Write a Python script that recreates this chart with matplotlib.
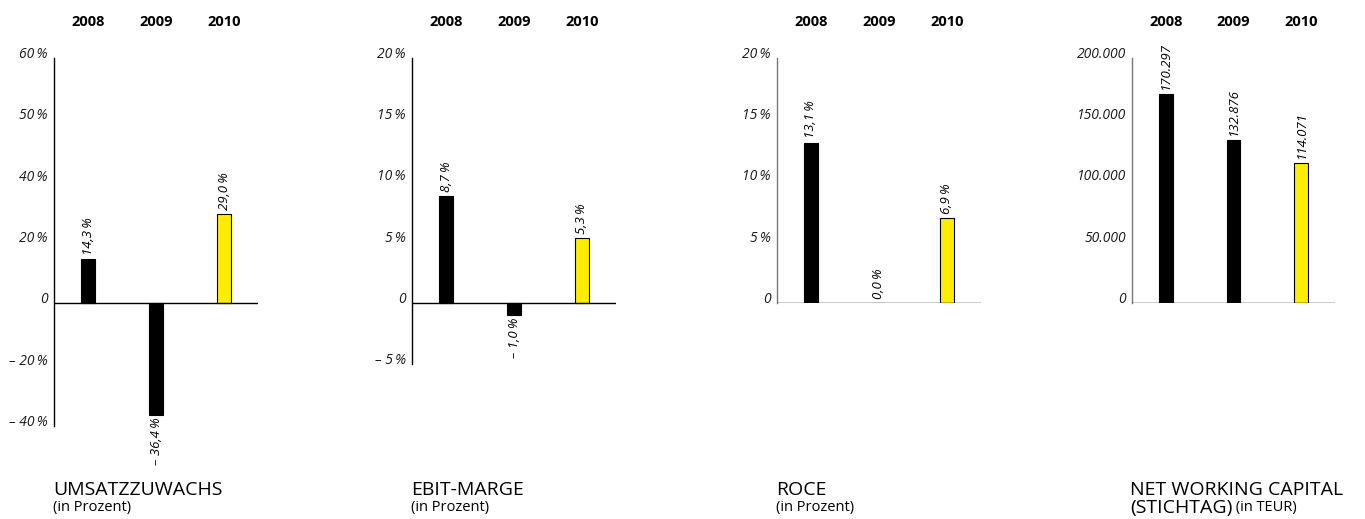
import matplotlib
matplotlib.use("Agg")
import matplotlib.pyplot as plt
import matplotlib.transforms as mtransforms

plt.rcParams['font.family'] = ['Open Sans', 'DejaVu Sans']

# Kennzahlen 2008 - 2010
years = ["2008", "2009", "2010"]
umsatz = [14.3, -36.4, 29.0]
ebit = [8.7, -1.0, 5.3]
roce = [13.1, 0.0, 6.9]
nwc = [170297, 132876, 114071]

# y-Achsen Beschriftung je Diagramm
umsatz_ticks = [-40, -20, 0, 20, 40, 60, 80]
umsatz_ticklabels = ["\u2013 40\u2009%", "\u2013 20\u2009%", "0", "20\u2009%", "40\u2009%", "50\u2009%", "60\u2009%"]
ebit_ticks = [-5, 0, 5, 10, 15, 20]
ebit_ticklabels = ["\u2013 5\u2009%", "0", "5\u2009%", "10\u2009%", "15\u2009%", "20\u2009%"]
roce_ticks = [0, 5, 10, 15, 20]
roce_ticklabels = ["0", "5\u2009%", "10\u2009%", "15\u2009%", "20\u2009%"]
nwc_ticks = [0, 50000, 100000, 150000, 200000]
nwc_ticklabels = ["0", "50.000", "100.000", "150.000", "200.000"]

titles = ["UMSATZZUWACHS", "EBIT-MARGE", "ROCE", "NET WORKING CAPITAL"]

BLACK = "#000000"
YELLOW = "#FFED00"
W, H = 1365, 519


def pct_label(v):
    s = f"{abs(v):.1f}".replace(".", ",") + "\u2009%"
    return ("\u2013 " + s) if v < 0 else s


def teur_label(v):
    return f"{v:,}".replace(",", ".")


fig = plt.figure(figsize=(W / 100, H / 100), dpi=100)


def panel(x0, x1, y0, y1, values, ticks, ticklabels, fmt, spine_col):
    # pixel box -> figure fraction
    ax = fig.add_axes([x0 / W, 1 - y1 / H, (x1 - x0) / W, (y1 - y0) / H])
    xs = range(len(values))
    colors = [BLACK, BLACK, YELLOW]
    ax.bar(xs, values, width=0.2, color=colors, edgecolor=BLACK, linewidth=0.8, zorder=3)
    ax.set_xlim(-0.5, 2.5)
    ax.set_ylim(min(ticks), max(ticks))
    ax.axhline(0, color=BLACK, lw=1.0, zorder=4)
    for s in ["top", "right", "bottom"]:
        ax.spines[s].set_visible(False)
    ax.spines["left"].set_color(spine_col)
    ax.spines["left"].set_linewidth(1.0)
    ax.set_xticks([])
    ax.set_yticks(ticks)
    ax.set_yticklabels(ticklabels, fontsize=10, style="italic", color="#1a1a1a")
    for lab in ax.get_yticklabels():
        lab.set_verticalalignment("baseline")
    ax.tick_params(axis="y", length=0, pad=4.5)

    # Jahreszahlen oben
    trans = mtransforms.blended_transform_factory(ax.transData, fig.transFigure)
    for i, yr in enumerate(years):
        ax.text(i, 1 - 22 / H, yr, transform=trans, ha="center", va="center",
                fontsize=10.5, fontweight="bold")

    # Werte an den Balken
    for i, v in enumerate(values):
        if v < 0:
            ax.annotate(fmt(v), (i, v), xytext=(0, -2), textcoords="offset points",
                        rotation=90, ha="center", va="top", fontsize=9.5, style="italic")
        else:
            ax.annotate(fmt(v), (i, v), xytext=(0, 3), textcoords="offset points",
                        rotation=90, ha="center", va="bottom", fontsize=9.5, style="italic")
    return ax


panel(54, 258, 58, 426, umsatz, umsatz_ticks, umsatz_ticklabels, pct_label, BLACK)
panel(412, 616, 58, 364, ebit, ebit_ticks, ebit_ticklabels, pct_label, BLACK)
panel(777, 981, 58, 303, roce, roce_ticks, roce_ticklabels, pct_label, "#777777")
ax4 = panel(1132, 1335, 58, 303, nwc, nwc_ticks, nwc_ticklabels, teur_label, "#777777")

# Unterschriften
title_x = [53, 411, 776, 1130]
for i, (tx, t) in enumerate(zip(title_x, titles)):
    fig.text(tx / W, 1 - 490 / H, t, fontsize=14, ha="left", va="center")
    if i < 3:
        fig.text(tx / W, 1 - 507 / H, "(in Prozent)", fontsize=10.5, ha="left", va="center")
    else:
        st = fig.text(tx / W, 1 - 508 / H, "(STICHTAG)", fontsize=14, ha="left", va="center")
        ax4.annotate(" (in TEUR)", xy=(1, 0), xycoords=st, xytext=(0, 1.5),
                     textcoords="offset points", fontsize=10.5, ha="left", va="bottom",
                     annotation_clip=False)

fig.savefig("out.png", dpi=100)
